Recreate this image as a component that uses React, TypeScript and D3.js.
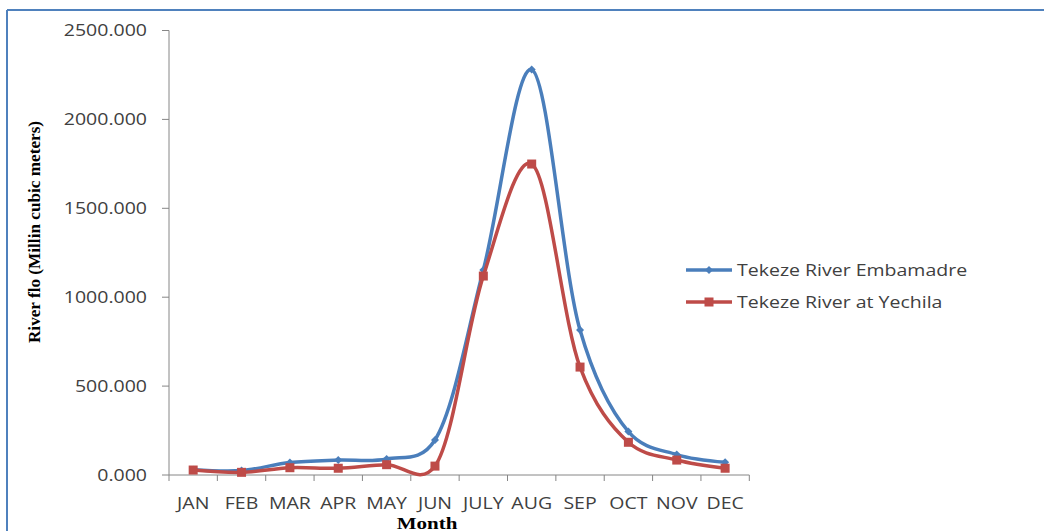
import React from "react";
import * as d3 from "d3";

const months = ["JAN", "FEB", "MAR", "APR", "MAY", "JUN", "JULY", "AUG", "SEP", "OCT", "NOV", "DEC"];
const embamadre = [30, 25, 70, 84, 90, 197, 1153, 2280, 815, 244, 115, 72];
const yechila = [28, 15, 41, 38, 58, 50, 1119, 1749, 607, 184, 84, 38];
const yTicks = [0, 500, 1000, 1500, 2000, 2500];
const seriesNames = ["Tekeze River Embamadre", "Tekeze River at Yechila"];
const colors = ["#4A7EBB", "#BE4B48"];

const FONT = "'Open Sans', 'Liberation Sans', sans-serif";
const SX = 1.22;

function SText(props: { x: number; y: number; anchor?: string; size?: number; sx?: number; children: React.ReactNode; fill?: string }) {
  const { x, y, anchor = "start", size = 16, sx = SX, children, fill = "#404040" } = props;
  return (
    <text
      transform={`translate(${x},${y}) scale(${sx},1)`}
      dy="0.36em"
      textAnchor={anchor}
      fontFamily={FONT}
      fontSize={size}
      fill={fill}
    >
      {children}
    </text>
  );
}

export default function App() {
  const W = 1044, H = 531;
  const left = 169, right = 749.3, top = 30.5, bottom = 475;
  const x = d3.scaleBand<string>().domain(months).range([left, right]).padding(0);
  const y = d3.scaleLinear().domain([0, 2500]).range([bottom, top]);
  const cx = (m: string) => (x(m) as number) + x.bandwidth() / 2;
  const line = d3.line<number>()
    .x((_, i) => cx(months[i]))
    .y((d) => y(d))
    .curve(d3.curveCatmullRom.alpha(0.2));
  const axisColor = "#868686";
  const series = [embamadre, yechila];
  const diamond = (px: number, py: number, r: number) =>
    `M${px},${py - r}L${px + r},${py}L${px},${py + r}L${px - r},${py}Z`;
  const serif = "'Liberation Serif', 'DejaVu Serif', serif";

  return (
    <svg width={W} height={H} style={{ position: "absolute", left: 0, top: 0, background: "#fff" }}>
      <rect x={0} y={0} width={W} height={H} fill="#fff" />
      <line x1={7} y1={10} x2={W} y2={10} stroke="#4F81BD" strokeWidth={2} />
      <line x1={7} y1={10} x2={7} y2={H} stroke="#4F81BD" strokeWidth={2} />

      {/* y axis */}
      <line x1={left} y1={top} x2={left} y2={bottom} stroke={axisColor} strokeWidth={1} />
      {yTicks.map((t) => (
        <g key={t}>
          <line x1={left - 7} x2={left} y1={y(t)} y2={y(t)} stroke={axisColor} />
          <SText x={147} y={y(t)} anchor="end">{t.toFixed(3)}</SText>
        </g>
      ))}

      {/* x axis */}
      <line x1={left} y1={bottom} x2={right} y2={bottom} stroke={axisColor} strokeWidth={1} />
      {[...months.map((m) => x(m) as number), right].map((px, i) => (
        <line key={i} x1={px} x2={px} y1={bottom} y2={bottom + 6} stroke={axisColor} />
      ))}
      {months.map((m) => (
        <SText key={m} x={cx(m)} y={503} anchor="middle">{m}</SText>
      ))}

      <text
        transform="translate(427,528.5) scale(1.2,1)"
        textAnchor="middle"
        fontFamily={serif}
        fontWeight="bold"
        fontSize={17.5}
        fill="#000"
      >
        Month
      </text>
      <text
        transform={`translate(40,232) rotate(-90)`}
        textAnchor="middle"
        fontFamily={serif}
        fontWeight="bold"
        fontSize={17.2}
        fill="#000"
      >
        River flo (Millin cubic meters)
      </text>

      {/* series */}
      {series.map((s, si) => (
        <g key={si}>
          <path d={line(s) as string} fill="none" stroke={colors[si]} strokeWidth={3.5} strokeLinejoin="round" />
          {s.map((v, i) =>
            si === 0 ? (
              <path key={i} d={diamond(cx(months[i]), y(v), 4)} fill={colors[si]} />
            ) : (
              <rect key={i} x={cx(months[i]) - 4.5} y={y(v) - 4.5} width={9} height={9} fill={colors[si]} />
            )
          )}
        </g>
      ))}

      {/* legend */}
      {seriesNames.map((n, i) => {
        const ly = 270 + i * 32;
        return (
          <g key={n}>
            <line x1={686} x2={732} y1={ly} y2={ly} stroke={colors[i]} strokeWidth={3.5} />
            {i === 0 ? (
              <path d={diamond(709, ly, 4)} fill={colors[i]} />
            ) : (
              <rect x={704.5} y={ly - 4.5} width={9} height={9} fill={colors[i]} />
            )}
            <SText x={737} y={ly}>{n}</SText>
          </g>
        );
      })}
    </svg>
  );
}
